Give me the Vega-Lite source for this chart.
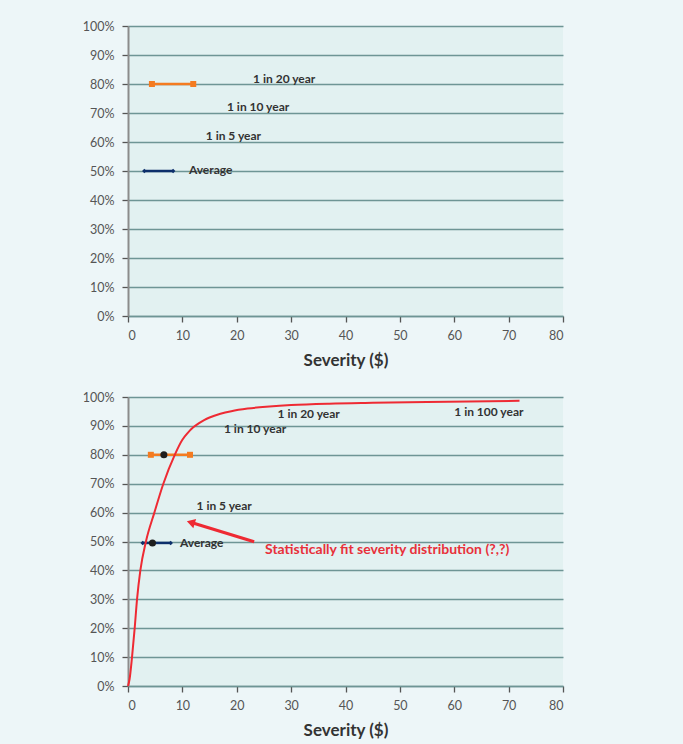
{
  "$schema": "https://vega.github.io/schema/vega-lite/v6.json",
  "background": "#edf6f8",
  "padding": {"left": 82, "top": 20, "right": 125, "bottom": 40},
  "spacing": 22,
  "datasets": {
    "segTop": [
      {"series": "avg", "x": 3.0, "p": 0.5},
      {"series": "avg", "x": 8.3, "p": 0.5},
      {"series": "p20", "x": 4.4, "p": 0.8},
      {"series": "p20", "x": 12.0, "p": 0.8}
    ],
    "segBottom": [
      {"series": "avg", "x": 2.7, "p": 0.495},
      {"series": "avg", "x": 7.85, "p": 0.495},
      {"series": "p20", "x": 4.2, "p": 0.8},
      {"series": "p20", "x": 11.4, "p": 0.8}
    ],
    "labelsTop": [
      {"label": "1 in 20 year", "x": 23.0, "p": 0.817},
      {"label": "1 in 10 year", "x": 18.2, "p": 0.721},
      {"label": "1 in 5 year", "x": 14.3, "p": 0.621},
      {"label": "Average", "x": 11.2, "p": 0.503}
    ],
    "labelsBottom": [
      {"label": "1 in 100 year", "x": 60.0, "p": 0.948},
      {"label": "1 in 20 year", "x": 27.5, "p": 0.941},
      {"label": "1 in 10 year", "x": 17.65, "p": 0.889},
      {"label": "1 in 5 year", "x": 12.6, "p": 0.622},
      {"label": "Average", "x": 9.56, "p": 0.494}
    ],
    "curve": [
      {"x": 0, "p": 0},
      {"x": 0.3, "p": 0.025},
      {"x": 0.74, "p": 0.10},
      {"x": 1.23, "p": 0.20},
      {"x": 1.66, "p": 0.30},
      {"x": 2.27, "p": 0.40},
      {"x": 3.3, "p": 0.50},
      {"x": 4.85, "p": 0.60},
      {"x": 6.5, "p": 0.70},
      {"x": 8.6, "p": 0.80},
      {"x": 10.0, "p": 0.852},
      {"x": 11.0, "p": 0.876},
      {"x": 12.0, "p": 0.895},
      {"x": 13.0, "p": 0.909},
      {"x": 14.0, "p": 0.920},
      {"x": 15.0, "p": 0.929},
      {"x": 17.0, "p": 0.942},
      {"x": 19.0, "p": 0.951},
      {"x": 22.0, "p": 0.960},
      {"x": 26.0, "p": 0.967},
      {"x": 30.0, "p": 0.972},
      {"x": 37.0, "p": 0.977},
      {"x": 45.0, "p": 0.980},
      {"x": 55.0, "p": 0.983},
      {"x": 72.0, "p": 0.987}
    ],
    "dots": [
      {"x": 4.5, "p": 0.495},
      {"x": 6.6, "p": 0.8}
    ],
    "arrow": [
      {"x": 23.2, "p": 0.499, "x2": 11.8, "p2": 0.565}
    ],
    "arrowHead": [
      {"x": 11.55, "p": 0.566}
    ],
    "note": [
      {"label": "Statistically fit severity distribution (?,?)", "x": 25.2, "p": 0.472}
    ]
  },
  "vconcat": [
    {
      "width": 435,
      "height": 290,
      "layer": [
        {
          "data": {"name": "segTop"},
          "mark": {"type": "line", "strokeWidth": 2.5},
          "encoding": {
            "x": {"field": "x", "type": "quantitative", "scale": {"domain": [0, 80], "nice": false}, "axis": {"values": [0, 10, 20, 30, 40, 50, 60, 70, 80], "tickCount": 20, "title": "Severity ($)", "grid": false}},
            "y": {"field": "p", "type": "quantitative", "scale": {"domain": [0, 1], "nice": false}, "axis": {"values": [0, 0.1, 0.2, 0.3, 0.4, 0.5, 0.6, 0.7, 0.8, 0.9, 1], "tickCount": 20, "labelOverlap": false, "format": ".0%", "title": null, "grid": true}},
            "color": {"field": "series", "type": "nominal", "scale": {"domain": ["avg", "p20"], "range": ["#0d2f6b", "#f47b20"]}, "legend": null},
            "detail": {"field": "series"}
          }
        },
        {
          "data": {"name": "segTop"},
          "mark": {"type": "point", "filled": true, "opacity": 1},
          "encoding": {
            "x": {"field": "x", "type": "quantitative"},
            "y": {"field": "p", "type": "quantitative"},
            "color": {"field": "series", "type": "nominal", "legend": null},
            "shape": {"field": "series", "type": "nominal", "scale": {"domain": ["avg", "p20"], "range": ["diamond", "square"]}, "legend": null},
            "size": {"field": "series", "type": "nominal", "scale": {"domain": ["avg", "p20"], "range": [20, 36]}, "legend": null}
          }
        },
        {
          "data": {"name": "labelsTop"},
          "mark": {"type": "text", "align": "left", "baseline": "middle", "font": "Lato", "fontSize": 12, "fontWeight": "bold", "color": "#333333"},
          "encoding": {
            "x": {"field": "x", "type": "quantitative"},
            "y": {"field": "p", "type": "quantitative"},
            "text": {"field": "label"}
          }
        }
      ]
    },
    {
      "width": 435,
      "height": 289,
      "layer": [
        {
          "data": {"name": "segBottom"},
          "mark": {"type": "line", "strokeWidth": 2.5},
          "encoding": {
            "x": {"field": "x", "type": "quantitative", "scale": {"domain": [0, 80], "nice": false}, "axis": {"values": [0, 10, 20, 30, 40, 50, 60, 70, 80], "tickCount": 20, "title": "Severity ($)", "grid": false}},
            "y": {"field": "p", "type": "quantitative", "scale": {"domain": [0, 1], "nice": false}, "axis": {"values": [0, 0.1, 0.2, 0.3, 0.4, 0.5, 0.6, 0.7, 0.8, 0.9, 1], "tickCount": 20, "labelOverlap": false, "format": ".0%", "title": null, "grid": true}},
            "color": {"field": "series", "type": "nominal", "scale": {"domain": ["avg", "p20"], "range": ["#0d2f6b", "#f47b20"]}, "legend": null},
            "detail": {"field": "series"}
          }
        },
        {
          "data": {"name": "segBottom"},
          "mark": {"type": "point", "filled": true, "opacity": 1},
          "encoding": {
            "x": {"field": "x", "type": "quantitative"},
            "y": {"field": "p", "type": "quantitative"},
            "color": {"field": "series", "type": "nominal", "legend": null},
            "shape": {"field": "series", "type": "nominal", "scale": {"domain": ["avg", "p20"], "range": ["diamond", "square"]}, "legend": null},
            "size": {"field": "series", "type": "nominal", "scale": {"domain": ["avg", "p20"], "range": [20, 36]}, "legend": null}
          }
        },
        {
          "data": {"name": "curve"},
          "mark": {"type": "line", "color": "#ee2a33", "strokeWidth": 2, "interpolate": "monotone"},
          "encoding": {
            "x": {"field": "x", "type": "quantitative"},
            "y": {"field": "p", "type": "quantitative"}
          }
        },
        {
          "data": {"name": "dots"},
          "mark": {"type": "circle", "color": "#1e1e1e", "size": 50, "opacity": 1},
          "encoding": {
            "x": {"field": "x", "type": "quantitative"},
            "y": {"field": "p", "type": "quantitative"}
          }
        },
        {
          "data": {"name": "arrow"},
          "mark": {"type": "rule", "color": "#ee2a33", "strokeWidth": 3},
          "encoding": {
            "x": {"field": "x", "type": "quantitative"},
            "y": {"field": "p", "type": "quantitative"},
            "x2": {"field": "x2"},
            "y2": {"field": "p2"}
          }
        },
        {
          "data": {"name": "arrowHead"},
          "mark": {"type": "point", "shape": "triangle-left", "filled": true, "color": "#ee2a33", "size": 90, "angle": 17, "opacity": 1},
          "encoding": {
            "x": {"field": "x", "type": "quantitative"},
            "y": {"field": "p", "type": "quantitative"}
          }
        },
        {
          "data": {"name": "labelsBottom"},
          "mark": {"type": "text", "align": "left", "baseline": "middle", "font": "Lato", "fontSize": 12, "fontWeight": "bold", "color": "#333333"},
          "encoding": {
            "x": {"field": "x", "type": "quantitative"},
            "y": {"field": "p", "type": "quantitative"},
            "text": {"field": "label"}
          }
        },
        {
          "data": {"name": "note"},
          "mark": {"type": "text", "align": "left", "baseline": "middle", "font": "Lato", "fontSize": 14, "fontWeight": "bold", "color": "#e8303a"},
          "encoding": {
            "x": {"field": "x", "type": "quantitative"},
            "y": {"field": "p", "type": "quantitative"},
            "text": {"field": "label"}
          }
        }
      ]
    }
  ],
  "config": {
    "font": "Lato",
    "view": {"fill": "#e2f1f1", "stroke": null},
    "axisY": {
      "domainColor": "#8c8c8c",
      "domainWidth": 2,
      "tickColor": "#555555",
      "tickSize": 6,
      "tickWidth": 1.3,
      "gridColor": "#6e9595",
      "gridWidth": 1.3,
      "labelColor": "#555555",
      "labelFont": "Lato",
      "labelFontSize": 12.5,
      "labelPadding": 8
    },
    "axisX": {
      "domainColor": "#6e9595",
      "domainWidth": 1.3,
      "tickColor": "#555555",
      "tickSize": 6,
      "tickWidth": 1.3,
      "labelColor": "#555555",
      "labelFont": "Lato",
      "labelFontSize": 12.5,
      "labelPadding": 7,
      "titleFont": "Lato",
      "titleFontSize": 17,
      "titleFontWeight": "bold",
      "titleColor": "#333333",
      "titlePadding": 11
    }
  }
}
